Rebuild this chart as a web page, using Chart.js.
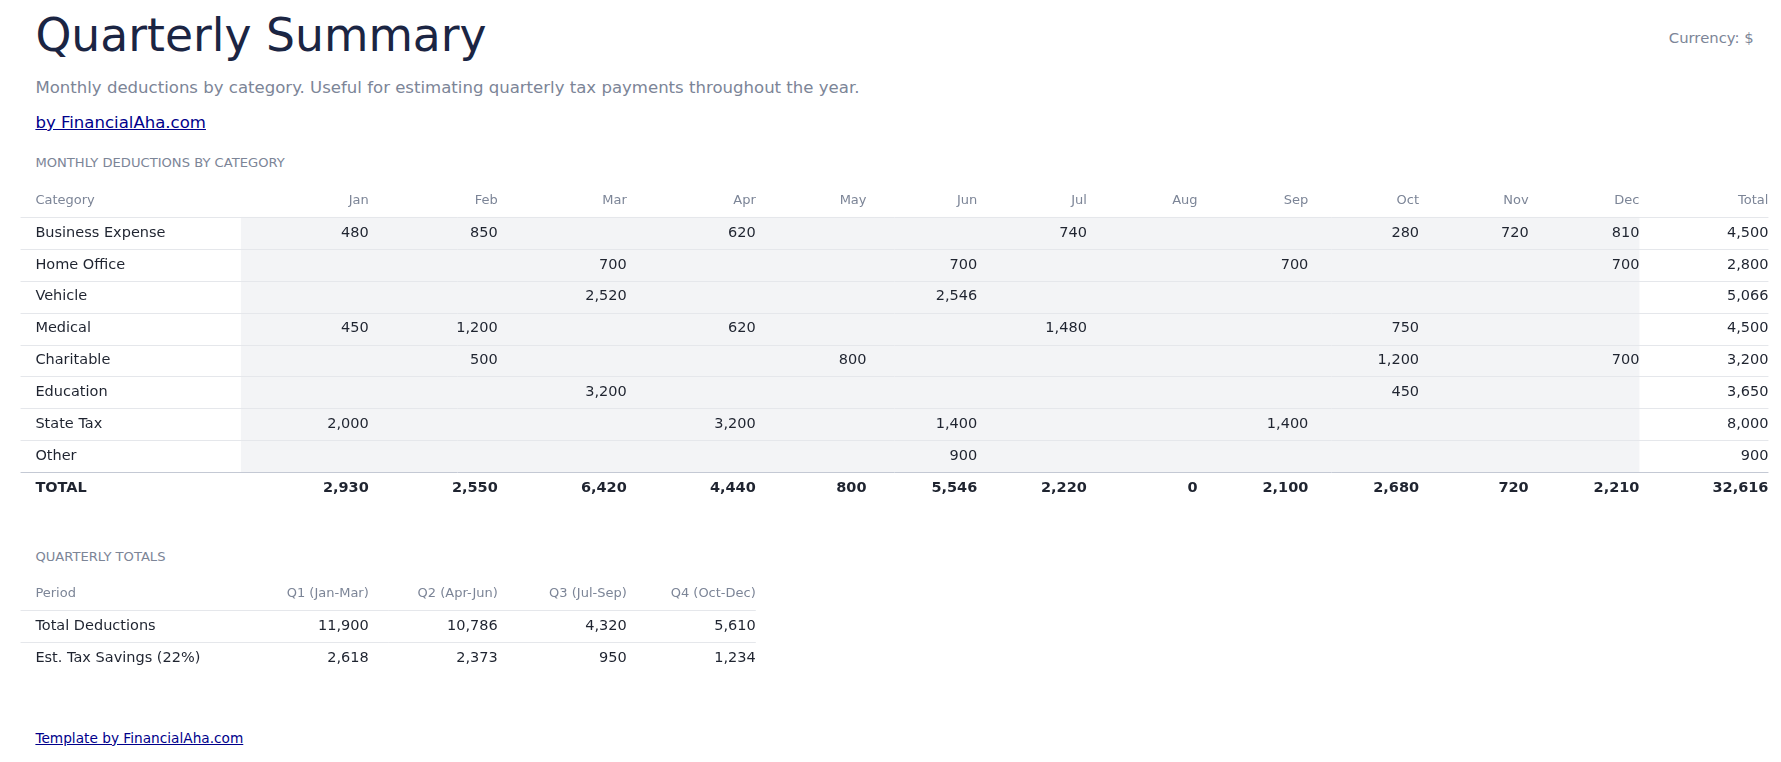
<!DOCTYPE html>
<html><head><meta charset="utf-8">
<script src="https://cdn.jsdelivr.net/npm/chart.js@4"></script>
<style>
body{margin:0;background:#fff;font-family:"DejaVu Sans",sans-serif;width:1781px;height:762px;position:relative;overflow:hidden}
#w{zoom:1.1417;position:absolute;left:0;top:0;width:1560px;height:667px}
.a{position:absolute;white-space:nowrap}
canvas{position:absolute;left:0}
</style></head><body>
<div id="w">
<div class="a" style="left:31px;top:8px;font-size:40px;color:#1b2543">Quarterly Summary</div>
<div class="a" style="right:24px;top:25px;font-size:13px;color:#7c8597">Currency: $</div>
<div class="a" style="left:31px;top:68px;font-size:14.5px;color:#7c8597">Monthly deductions by category. Useful for estimating quarterly tax payments throughout the year.</div>
<a class="a" href="#" style="left:31px;top:99px;font-size:14.5px;color:#00008b">by FinancialAha.com</a>
<div class="a" style="left:31px;top:136px;font-size:11.5px;color:#7c8597">MONTHLY DEDUCTIONS BY CATEGORY</div>
<div class="a" style="left:31px;top:481px;font-size:11.5px;color:#7c8597">QUARTERLY TOTALS</div>
<a class="a" href="#" style="left:31px;top:639px;font-size:12px;color:#00008b">Template by FinancialAha.com</a>
</div>
<canvas id="c1" width="1781" height="319" style="top:185px"></canvas>
<canvas id="c2" width="1781" height="96" style="top:578px"></canvas>
<script>
const S=1781/1560;
const months=['Jan','Feb','Mar','Apr','May','Jun','Jul','Aug','Sep','Oct','Nov','Dec'];
const categories=['Business Expense','Home Office','Vehicle','Medical','Charitable','Education','State Tax','Other'];
const businessExpense=[480,850,null,620,null,null,740,null,null,280,720,810];
const homeOffice=[null,null,700,null,null,700,null,null,700,null,null,700];
const vehicle=[null,null,2520,null,null,2546,null,null,null,null,null,null];
const medical=[450,1200,null,620,null,null,1480,null,null,750,null,null];
const charitable=[null,500,null,null,800,null,null,null,null,1200,null,700];
const education=[null,null,3200,null,null,null,null,null,null,450,null,null];
const stateTax=[2000,null,null,3200,null,1400,null,null,1400,null,null,null];
const other=[null,null,null,null,null,900,null,null,null,null,null,null];
const rowTotals=[4500,2800,5066,4500,3200,3650,8000,900];
const monthTotals=[2930,2550,6420,4440,800,5546,2220,0,2100,2680,720,2210];
const grandTotal=32616;
const periods=['Q1 (Jan-Mar)','Q2 (Apr-Jun)','Q3 (Jul-Sep)','Q4 (Oct-Dec)'];
const totalDeductions=[11900,10786,4320,5610];
const taxSavings=[2618,2373,950,1234];

const series=[businessExpense,homeOffice,vehicle,medical,charitable,education,stateTax,other];
const fmt=v=>v==null?'':v.toLocaleString('en-US');

const tablePlugin={id:'table',afterDraw(chart,args,o){
  const ctx=chart.ctx,x=chart.scales.x,y=chart.scales.y;
  const rows=o.rows, rh=y.getPixelForValue(1)-y.getPixelForValue(0);
  const L=x.getPixelForValue(o.left),R=x.getPixelForValue(o.cols[o.cols.length-1]);
  ctx.save();
  if(o.shade){
    ctx.fillStyle='#f3f4f6';
    const y0=y.getPixelForValue(1)-rh/2,y1=y.getPixelForValue(rows.length-2)+rh/2;
    ctx.fillRect(x.getPixelForValue(o.shade[0]),y0,x.getPixelForValue(o.shade[1])-x.getPixelForValue(o.shade[0]),y1-y0);
  }
  rows.forEach((r,i)=>{
    const cy=y.getPixelForValue(i);
    const head=i===0,bold=r.bold;
    ctx.textBaseline='middle';
    ctx.font=(bold?'bold ':'')+(head?12.5*S/1.1:14*S/1.1).toFixed(1)+'px "DejaVu Sans"';
    ctx.fillStyle=head?'#7c8597':'#1f2430';
    ctx.textAlign='left';ctx.fillText(r.label,x.getPixelForValue(o.textX),cy);
    ctx.textAlign='right';
    r.cells.forEach((c,j)=>ctx.fillText(c,x.getPixelForValue(o.cols[j+1]),cy));
    if(i<rows.length-1 || o.lastLine){
      const ly=Math.round(cy+rh/2)+0.5;
      ctx.strokeStyle=(rows[i+1]&&rows[i+1].bold)?'#c4c9d4':'#e5e7eb';ctx.lineWidth=1;
      ctx.beginPath();ctx.moveTo(L,ly);ctx.lineTo(R,ly);ctx.stroke();
    }
  });
  ctx.restore();
}};

function make(id,rows,extra){
  return new Chart(document.getElementById(id),{type:'scatter',data:{datasets:[]},
    plugins:[tablePlugin],
    options:{responsive:false,animation:false,devicePixelRatio:1,
      layout:{padding:0},
      plugins:{legend:{display:false},tooltip:{enabled:false},table:Object.assign({rows,left:18,textX:31},extra)},
      scales:{x:{type:'linear',min:0,max:1560,display:false},
              y:{type:'category',labels:rows.map((r,i)=>String(i)),offset:true,display:false}}}});
}

const rows1=[{label:'Category',cells:[...months,'Total']}]
  .concat(categories.map((c,i)=>({label:c,cells:[...series[i].map(fmt),fmt(rowTotals[i])]})))
  .concat([{label:'TOTAL',bold:true,cells:[...monthTotals.map(fmt),fmt(grandTotal)]}]);
make('c1',rows1,{cols:[211,323,436,549,662,759,856,952,1049,1146,1243,1339,1436,1549],shade:[211,1436],lastLine:false});

const rows2=[{label:'Period',cells:periods},
  {label:'Total Deductions',cells:totalDeductions.map(fmt)},
  {label:'Est. Tax Savings (22%)',cells:taxSavings.map(fmt)}];
make('c2',rows2,{cols:[211,323,436,549,662],lastLine:true});
</script>
</body></html>
